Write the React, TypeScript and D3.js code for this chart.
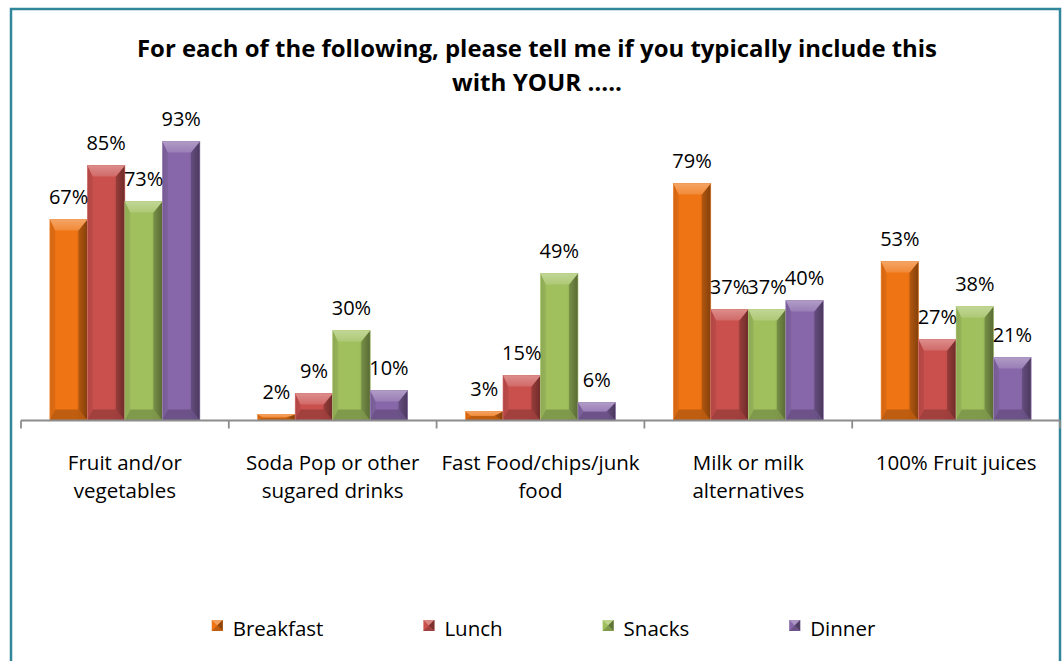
import React from "react";
import * as d3 from "d3";

const categories = [
  "Fruit and/or\nvegetables",
  "Soda Pop or other\nsugared drinks",
  "Fast Food/chips/junk\nfood",
  "Milk or milk\nalternatives",
  "100% Fruit juices",
];
const seriesNames = ["Breakfast", "Lunch", "Snacks", "Dinner"];
const breakfast = [67, 2, 3, 79, 53];
const lunch = [85, 9, 15, 37, 27];
const snacks = [73, 30, 49, 37, 38];
const dinner = [93, 10, 6, 40, 21];
const seriesValues = [breakfast, lunch, snacks, dinner];
const titleLines = [
  "For each of the following, please tell me if you typically include this",
  "with YOUR …..",
];

const colors = ["#EF7414", "#C9504D", "#A0C05E", "#8767A9"];
const FONT = "'Open Sans', Lato, sans-serif";

const W = 1063;
const H = 661;

function measure(text: string, font: string): number {
  const c = document.createElement("canvas");
  const ctx = c.getContext("2d")!;
  ctx.font = font;
  return ctx.measureText(text).width;
}

function Bar({ x, y, w, h, color, id }: { x: number; y: number; w: number; h: number; color: string; id: string }) {
  if (h <= 0) return null;
  const b = Math.min(11, h / 2);
  const s = Math.min(9, w / 2);
  const c = d3.color(color)!;
  const light = d3.interpolateRgb(color, "#ffffff")(0.35);
  const dark = d3.interpolateRgb(color, "#000000")(0.45);
  const dark2 = d3.interpolateRgb(color, "#000000")(0.25);
  const midDark = d3.interpolateRgb(color, "#000000")(0.12);
  return (
    <g>
      <defs>
        <linearGradient id={`f${id}`} x1="0" x2="1" y1="0" y2="0">
          <stop offset="0" stopColor={midDark} />
          <stop offset="0.12" stopColor={c.formatHex()} />
          <stop offset="0.7" stopColor={c.formatHex()} />
          <stop offset="1" stopColor={dark2} />
        </linearGradient>
        <linearGradient id={`r${id}`} x1="0" x2="1" y1="0" y2="0">
          <stop offset="0" stopColor={dark2} />
          <stop offset="1" stopColor={dark} />
        </linearGradient>
        <linearGradient id={`t${id}`} x1="0" x2="0" y1="0" y2="1">
          <stop offset="0" stopColor={light} />
          <stop offset="1" stopColor={d3.interpolateRgb(color, "#ffffff")(0.15)} />
        </linearGradient>
      </defs>
      <rect x={x} y={y} width={w} height={h} fill={`url(#f${id})`} />
      <polygon
        points={`${x + w},${y} ${x + w},${y + h} ${x + w - s},${y + h - b} ${x + w - s},${y + b}`}
        fill={`url(#r${id})`}
      />
      <polygon
        points={`${x},${y} ${x},${y + h} ${x + s * 0.6},${y + h - b} ${x + s * 0.6},${y + b}`}
        fill={midDark}
        opacity={0.6}
      />
      <polygon
        points={`${x},${y + h} ${x + w},${y + h} ${x + w - s},${y + h - b} ${x + s * 0.6},${y + h - b}`}
        fill={dark2}
        opacity={0.8}
      />
      <polygon
        points={`${x},${y} ${x + w},${y} ${x + w - s},${y + b} ${x + s * 0.6},${y + b}`}
        fill={`url(#t${id})`}
      />
      <rect x={x} y={y} width={w} height={h} fill="none" stroke={d3.interpolateRgb(color, "#ffffff")(0.2)} strokeWidth={0.6} />
    </g>
  );
}

function LegendSwatch({ x, y, size, color }: { x: number; y: number; size: number; color: string }) {
  const light = d3.interpolateRgb(color, "#ffffff")(0.3);
  const dark = d3.interpolateRgb(color, "#000000")(0.4);
  const m = size / 2;
  return (
    <g>
      <rect x={x} y={y} width={size} height={size} fill={color} />
      <polygon points={`${x},${y} ${x + size},${y} ${x + m},${y + m}`} fill={light} />
      <polygon points={`${x + size},${y} ${x + size},${y + size} ${x + m},${y + m}`} fill={dark} />
      <polygon points={`${x},${y + size} ${x + size},${y + size} ${x + m},${y + m}`} fill={d3.interpolateRgb(color, "#000000")(0.2)} />
    </g>
  );
}

export default function App() {
  const left = 21;
  const right = 1060;
  const baseY = 420.5;

  const x0 = d3.scaleBand<string>().domain(categories).range([left, right]).padding(0);
  const x1 = d3
    .scaleBand<string>()
    .domain(seriesNames)
    .range([0, x0.bandwidth()])
    .paddingInner(0)
    .paddingOuter(0.77);
  const y = d3.scaleLinear().domain([0, 100]).range([baseY, baseY - 300]);

  const tickXs = [...categories.map((c) => x0(c)!), right];

  const legendFontSize = 20.5;
  const legendFont = `${legendFontSize}px 'Open Sans'`;
  const sw = 11;
  const swGap = 10;
  const itemGap = 100;
  const widths = seriesNames.map((n) => measure(n, legendFont));
  const totalW = widths.reduce((a, w) => a + sw + swGap + w, 0) + itemGap * (seriesNames.length - 1);
  const legendCenter = 543.5;
  let cursor = legendCenter - totalW / 2;
  const legendItems = seriesNames.map((n, i) => {
    const item = { name: n, x: cursor, color: colors[i] };
    cursor += sw + swGap + widths[i] + itemGap;
    return item;
  });
  const legendBase = 635.5;

  return (
    <svg
      width={W}
      height={H}
      style={{ position: "absolute", left: 0, top: 0, background: "#fff" }}
      fontFamily={FONT}
    >
      <rect x={0} y={0} width={W} height={H} fill="#fff" />
      <rect x={11} y={9} width={1049} height={700} fill="none" stroke="#31869B" strokeWidth={2.5} />

      <text x={537} y={57} textAnchor="middle" fontWeight="bold" fontSize={23.5} fill="#000" textLength={800} lengthAdjust="spacingAndGlyphs">
        {titleLines[0]}
      </text>
      <text x={537} y={91} textAnchor="middle" fontWeight="bold" fontSize={23.5} fill="#000" textLength={170} lengthAdjust="spacingAndGlyphs">
        {titleLines[1]}
      </text>

      {categories.map((cat, ci) =>
        seriesNames.map((s, si) => {
          const v = seriesValues[si][ci];
          const bx = x0(cat)! + x1(s)!;
          const by = y(v);
          return (
            <Bar
              key={`${ci}-${si}`}
              id={`${ci}-${si}`}
              x={bx}
              y={by}
              w={x1.bandwidth()}
              h={baseY - by}
              color={colors[si]}
            />
          );
        })
      )}

      <line x1={left} x2={right} y1={baseY} y2={baseY} stroke="#8C8C8C" strokeWidth={1.8} />
      {tickXs.map((tx, i) => (
        <line key={i} x1={tx} x2={tx} y1={baseY} y2={baseY + 8} stroke="#8C8C8C" strokeWidth={1.8} />
      ))}

      {categories.map((cat, ci) =>
        seriesNames.map((s, si) => {
          const v = seriesValues[si][ci];
          const cx = x0(cat)! + x1(s)! + x1.bandwidth() / 2;
          return (
            <text key={`l${ci}-${si}`} x={cx} y={y(v) - 16} textAnchor="middle" fontSize={20} fill="#000">
              {`${v}%`}
            </text>
          );
        })
      )}

      {categories.map((cat, ci) => {
        const cx = x0(cat)! + x0.bandwidth() / 2;
        return cat.split("\n").map((line, li) => (
          <text key={`c${ci}-${li}`} x={cx} y={470 + li * 28} textAnchor="middle" fontSize={20.5} fill="#000">
            {line}
          </text>
        ));
      })}

      {legendItems.map((it) => (
        <g key={it.name}>
          <LegendSwatch x={it.x} y={legendBase - 15.5} size={sw} color={it.color} />
          <text x={it.x + sw + swGap} y={legendBase} fontSize={legendFontSize} fill="#000">
            {it.name}
          </text>
        </g>
      ))}
    </svg>
  );
}
